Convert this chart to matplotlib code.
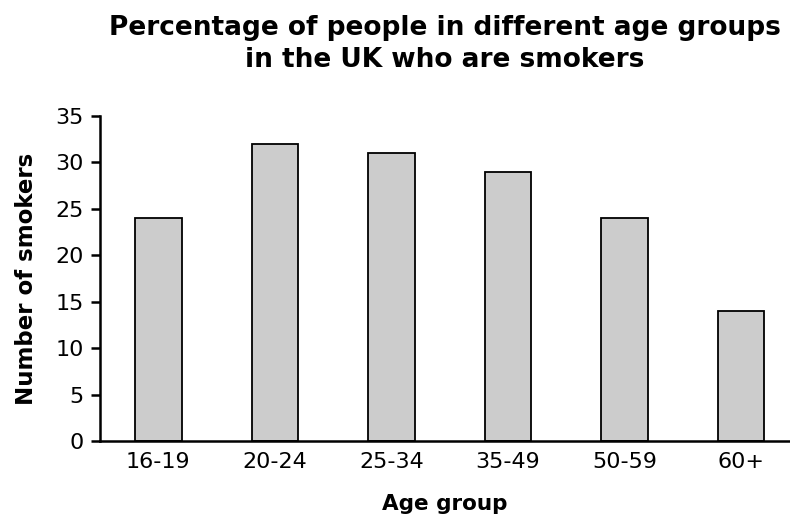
import matplotlib.pyplot as plt

plt.rcParams['font.family'] = ['DejaVu Sans']

# Datos
age_groups = ['16-19', '20-24', '25-34', '35-49', '50-59', '60+']
smokers = [24, 32, 31, 29, 24, 14]
y_ticks = [0, 5, 10, 15, 20, 25, 30, 35]

fig = plt.figure(figsize=(7.9, 5.17), dpi=100)
ax = fig.add_axes([0.1266, 0.147, 0.8734, 0.6286])

ax.bar(range(len(age_groups)), smokers, width=0.4, color='#cccccc',
       edgecolor='black', linewidth=1.3)

ax.set_xlim(-0.5, 5.42)
ax.set_ylim(0, 35)
ax.set_yticks(y_ticks)
ax.set_xticks(range(len(age_groups)))
ax.set_xticklabels(age_groups)

ax.spines['top'].set_visible(False)
ax.spines['right'].set_visible(False)
ax.spines['left'].set_linewidth(1.8)
ax.spines['bottom'].set_linewidth(1.8)
ax.tick_params(axis='y', length=6.5, width=1.8, labelsize=16, pad=5)
ax.tick_params(axis='x', length=0, labelsize=16, pad=8)

ax.set_xlabel('Age group', fontsize=15.5, fontweight='bold', labelpad=16)
ax.set_ylabel('Number of smokers', fontsize=16.5, fontweight='bold', labelpad=13)
ax.set_title('Percentage of people in different age groups\nin the UK who are smokers',
             fontsize=19, fontweight='bold', pad=35, linespacing=1.3)

fig.savefig('out.png', dpi=100)
